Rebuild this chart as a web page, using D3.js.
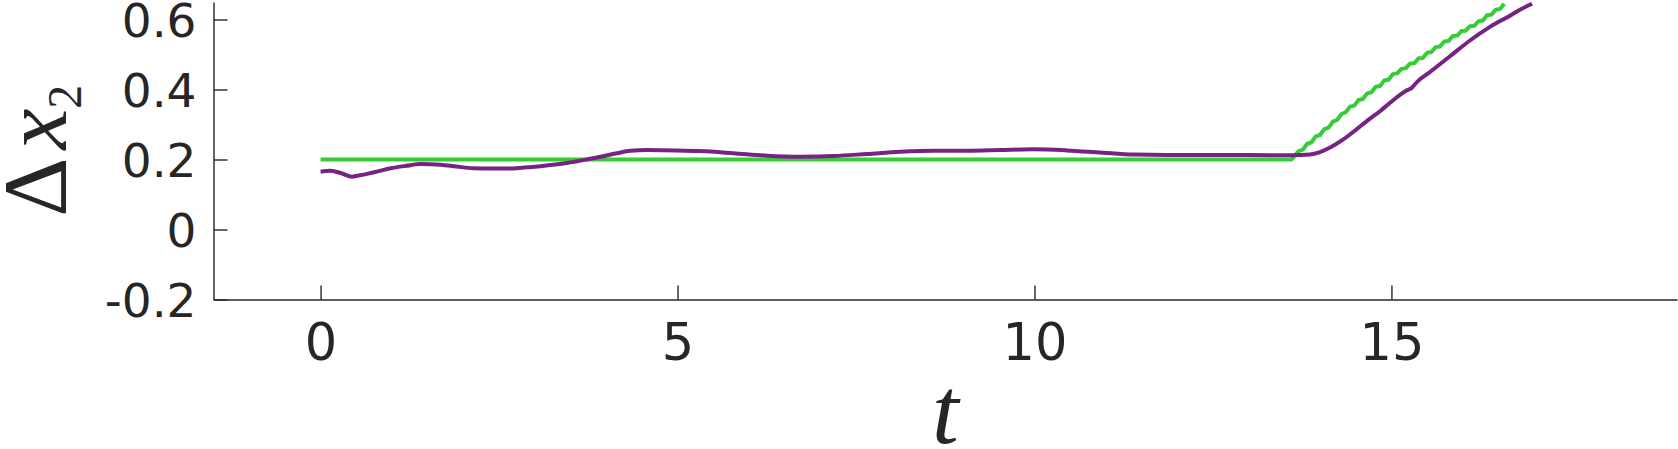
<!DOCTYPE html>
<html>
<head>
<meta charset="utf-8">
<script src="https://cdn.jsdelivr.net/npm/d3@7"></script>
<style>
    body { margin: 0; background: white; }
    svg { display: block; }
</style>
</head>
<body>
<div id="viz"></div>
<script>
const greenT = [0, 13.6,
    13.70, 13.76, 13.82, 13.88, 13.94, 14.00, 14.06, 14.12, 14.18, 14.24,
    14.30, 14.36, 14.42, 14.48, 14.54, 14.60, 14.66, 14.72, 14.78, 14.84,
    14.90, 14.96, 15.02, 15.08, 15.14, 15.20, 15.26, 15.32, 15.38, 15.44,
    15.50, 15.56, 15.62, 15.68, 15.74, 15.80, 15.86, 15.92, 15.98, 16.04,
    16.10, 16.16, 16.22, 16.28, 16.34, 16.40, 16.46, 16.52, 16.58];
const greenV = [0.2, 0.2,
    0.224, 0.228, 0.245, 0.249, 0.266, 0.270, 0.287, 0.291, 0.308, 0.313,
    0.330, 0.335, 0.351, 0.354, 0.370, 0.373, 0.389, 0.392, 0.408, 0.410,
    0.426, 0.428, 0.444, 0.446, 0.459, 0.461, 0.474, 0.475, 0.489, 0.490,
    0.505, 0.507, 0.521, 0.523, 0.537, 0.539, 0.553, 0.554, 0.567, 0.568,
    0.581, 0.582, 0.595, 0.597, 0.612, 0.614, 0.628, 0.630, 0.645];

const purpleT = [0, 0.14, 0.30, 0.44, 0.55, 0.65, 0.80, 0.98, 1.20, 1.40,
    1.68, 1.90, 2.14, 2.40, 2.61, 2.85, 3.08, 3.45, 3.70, 3.92,
    4.15, 4.34, 4.57, 5.00, 5.32, 5.78, 6.25, 6.72, 7.19, 7.66,
    8.12, 8.59, 9.06, 9.52, 9.99, 10.45, 10.92, 11.39, 11.85, 12.5,
    13.0, 13.6, 13.86, 14.00, 14.14, 14.33, 14.51, 14.65, 14.84, 14.98,
    15.20, 15.28, 15.36, 15.54, 15.82, 16.10, 16.38, 16.66, 16.80, 16.97];
const purpleV = [0.165, 0.168, 0.160, 0.151, 0.155, 0.159, 0.166, 0.175, 0.182, 0.187,
    0.185, 0.180, 0.175, 0.174, 0.174, 0.177, 0.181, 0.190, 0.199, 0.208,
    0.218, 0.225, 0.227, 0.226, 0.224, 0.218, 0.211, 0.208, 0.210, 0.216,
    0.222, 0.225, 0.225, 0.227, 0.229, 0.226, 0.220, 0.214, 0.213, 0.213,
    0.213, 0.212, 0.214, 0.221, 0.234, 0.258, 0.286, 0.309, 0.338, 0.362,
    0.396, 0.404, 0.422, 0.450, 0.495, 0.540, 0.579, 0.611, 0.628, 0.645];

const xTicks = [0, 5, 10, 15];
const xTickLabels = ['0', '5', '10', '15'];
const yTicks = [-0.2, 0, 0.2, 0.4, 0.6];
const yTickLabels = ['-0.2', '0', '0.2', '0.4', '0.6'];

const width = 1678, height = 449;
const axisColor = '#262626';

let xScale = d3.scaleLinear()
    .domain([-1.5, 19])
    .range([213.5, 1677]);

let yScale = d3.scaleLinear()
    .domain([-0.2, 0.65])
    .range([299.5, 2]);

let svg = d3.select('#viz')
    .append('svg')
    .attr('width', width)
    .attr('height', height)
    .style('background', 'white');

let xAxis = d3.axisBottom(xScale)
    .tickValues(xTicks)
    .tickFormat((d, i) => xTickLabels[i])
    .tickSizeInner(-14)
    .tickSizeOuter(0)
    .tickPadding(24);

let yAxis = d3.axisLeft(yScale)
    .tickValues(yTicks)
    .tickFormat((d, i) => yTickLabels[i])
    .tickSizeInner(-14)
    .tickSizeOuter(0)
    .tickPadding(17);

let gx = svg.append('g')
    .attr('transform', 'translate(0,' + yScale(-0.2) + ')')
    .call(xAxis);

let gy = svg.append('g')
    .attr('transform', 'translate(' + xScale(-1.5) + ',0)')
    .call(yAxis);

[gx, gy].forEach(g => {
    g.select('.domain').attr('stroke', axisColor).attr('stroke-width', 1.4);
    g.selectAll('.tick line').attr('stroke', axisColor).attr('stroke-width', 1.4);
    g.selectAll('.tick text')
        .attr('fill', axisColor)
        .style('font-family', '"DejaVu Sans", sans-serif');
});
gx.selectAll('.tick text').style('font-size', '51px');
gy.selectAll('.tick text')
    .style('font-size', '47px')
    .attr('dy', '0.37em');

let line = d3.line()
    .x(d => xScale(d[0]))
    .y(d => yScale(d[1]));

let greenData = greenT.map((t, i) => [t, greenV[i]]);
let purpleData = purpleT.map((t, i) => [t, purpleV[i]]);

svg.append('path')
    .datum(greenData)
    .attr('fill', 'none')
    .attr('stroke', '#36cc36')
    .attr('stroke-width', 4)
    .attr('stroke-linejoin', 'round')
    .attr('d', line);

svg.append('path')
    .datum(purpleData)
    .attr('fill', 'none')
    .attr('stroke', '#772384')
    .attr('stroke-width', 4)
    .attr('stroke-linejoin', 'round')
    .attr('d', line.curve(d3.curveMonotoneX));

svg.append('text')
    .attr('x', (xScale(-1.5) + xScale(19)) / 2)
    .attr('y', 443)
    .attr('text-anchor', 'middle')
    .attr('fill', axisColor)
    .style('font-family', '"Liberation Serif", serif')
    .style('font-style', 'italic')
    .style('font-size', '96px')
    .text('t');

let ylab = svg.append('text')
    .attr('transform', 'translate(66,' + (yScale(-0.2) + yScale(0.65)) / 2 + ') rotate(-90)')
    .attr('text-anchor', 'middle')
    .attr('fill', axisColor)
    .style('font-family', '"Liberation Serif", serif')
    .style('font-size', '92px');

ylab.append('tspan').text('Δ');
ylab.append('tspan').attr('dx', 8).style('font-style', 'italic').text('x');
ylab.append('tspan').attr('dy', 15).style('font-size', '48px').text('2');
</script>
</body>
</html>
